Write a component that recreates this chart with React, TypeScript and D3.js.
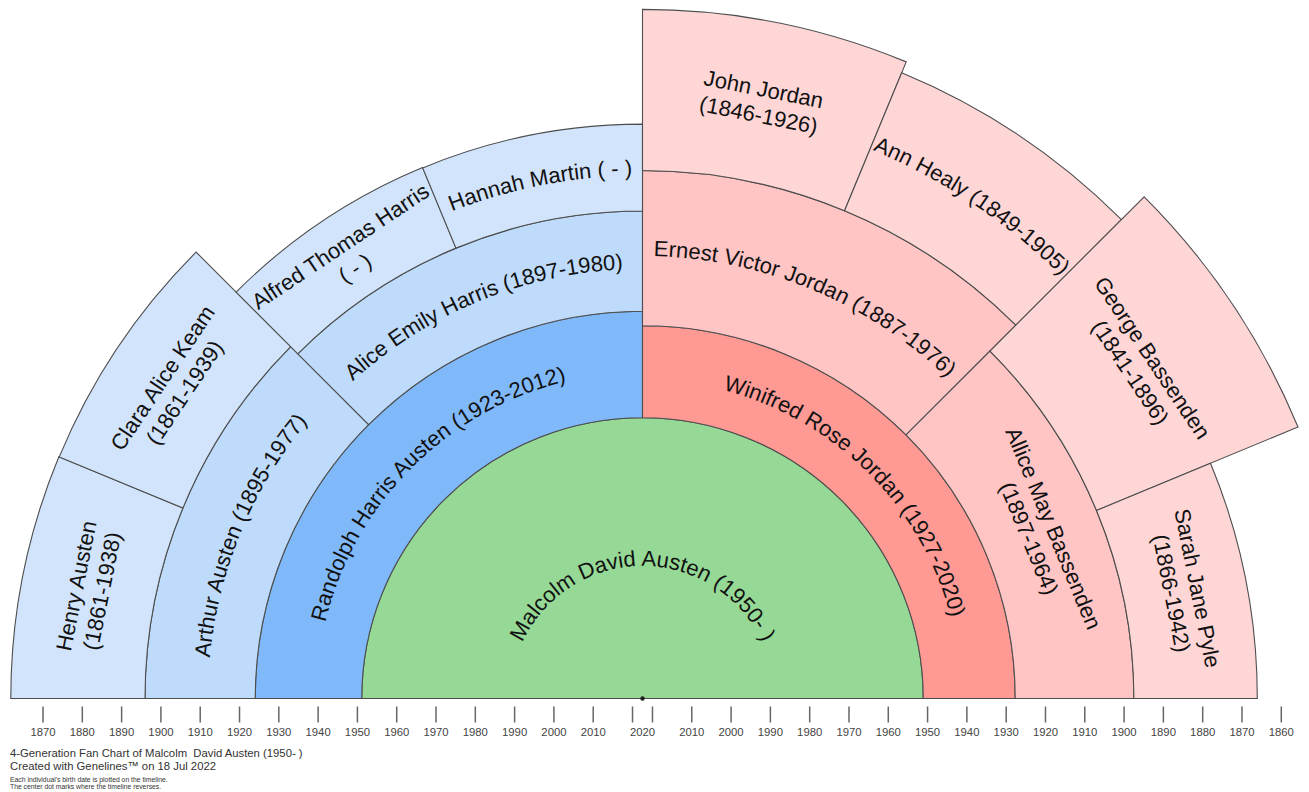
import React, { useMemo } from "react";
import * as d3 from "d3";

// ---- Data (Ahnentafel order: 1 = subject, 2n = father, 2n+1 = mother) ----
const names = [
  "Malcolm David Austen",
  "Randolph Harris Austen",
  "Winifred Rose Jordan",
  "Arthur Austen",
  "Alice Emily Harris",
  "Ernest Victor Jordan",
  "Allice May Bassenden",
  "Henry Austen",
  "Clara Alice Keam",
  "Alfred Thomas Harris",
  "Hannah Martin",
  "John Jordan",
  "Ann Healy",
  "George Bassenden",
  "Sarah Jane Pyle",
];
const lifespans = [
  "1950- ",
  "1923-2012",
  "1927-2020",
  "1895-1977",
  "1897-1980",
  "1887-1976",
  "1897-1964",
  "1861-1938",
  "1861-1939",
  " - ",
  " - ",
  "1846-1926",
  "1849-1905",
  "1841-1896",
  "1866-1942",
];
// birth dates as plotted on the timeline
const plottedBirth = [
  1951.1, 1924.0, 1927.7, 1895.95, 1898.5, 1888.2, 1897.5,
  1861.8, 1861.9, 1876.3, 1876.4, 1847.2, 1850.2, 1842.0, 1866.1,
];
const chartDate = 2022.54; // 18 Jul 2022
const leftTickYears = [1870, 1880, 1890, 1900, 1910, 1920, 1930, 1940, 1950, 1960, 1970, 1980, 1990, 2000, 2010, 2020];
const rightTickYears = [2020, 2010, 2000, 1990, 1980, 1970, 1960, 1950, 1940, 1930, 1920, 1910, 1900, 1890, 1880, 1870, 1860];
const centerTickYear = 2020; // labelled once, between its two ticks
const paternalColors = ["#96D996", "#80B9FA", "#BEDBFC", "#D1E4FC"];
const maternalColors = ["#96D996", "#FF9994", "#FFC4C4", "#FFD6D6"];
const footerLines = [
  "4-Generation Fan Chart of Malcolm  David Austen (1950- )",
  "Created with Genelines\u2122 on 18 Jul 2022",
];
const noteLines = [
  "Each individual's birth date is plotted on the timeline.",
  "The center dot marks where the timeline reverses.",
];

const W = 1309;
const H = 792;
const cx = 642.5;
const cy = 698.5;
const FONT = "'Liberation Sans', Arial, sans-serif";
const LABEL_SIZE = 22;

let ctx: CanvasRenderingContext2D | null = null;
function measure(text: string, size: number) {
  if (!ctx) ctx = document.createElement("canvas").getContext("2d");
  if (!ctx) return text.length * size * 0.5;
  ctx.font = `${size}px 'Liberation Sans', Arial, sans-serif`;
  return ctx.measureText(text).width;
}

export default function App() {
  const r = d3.scaleLinear().domain([chartDate, chartDate - 100]).range([0, 393]);
  const arcGen = d3.arc<any>();

  const cells = useMemo(
    () =>
      names.map((name, i) => {
        const n = i + 1;
        const g = Math.floor(Math.log2(n));
        const count = 2 ** g;
        const slot = n - count;
        const span = 180 / count;
        const thA = 180 - slot * span;
        const thB = thA - span;
        const inner = n === 1 ? 0 : r(plottedBirth[Math.floor(n / 2) - 1]);
        const outer = r(plottedBirth[i]);
        const paternal = slot < count / 2;
        const fill = n === 1 ? paternalColors[0] : paternal ? paternalColors[g] : maternalColors[g];
        const mid = (inner + outer) / 2;
        const base = mid - 0.355 * LABEL_SIZE; // baseline radius so glyphs centre on the ring
        const full = `${name} (${lifespans[i]})`;
        const arcLen = (mid * span * Math.PI) / 180;
        const wrap = measure(full, LABEL_SIZE) > arcLen * 0.975;
        return { n, g, thA, thB, inner, outer, fill, mid, base, full, wrap, name, life: `(${lifespans[i]})` };
      }),
    []
  );

  const toRad = (d: number) => (d * Math.PI) / 180;

  return (
    <svg
      width={W}
      height={H}
      style={{ position: "absolute", left: 0, top: 0, display: "block", background: "#fff" }}
      fontFamily={FONT}
    >
      <g>
        {cells.map((c) => (
          <path
            key={"c" + c.n}
            transform={`translate(${cx},${cy})`}
            d={
              arcGen({
                innerRadius: c.inner,
                outerRadius: c.outer,
                startAngle: Math.PI / 2 - toRad(c.thA),
                endAngle: Math.PI / 2 - toRad(c.thB),
              }) as string
            }
            fill={c.fill}
            stroke="#4d4d4d"
            strokeWidth={1.1}
          />
        ))}
      </g>
      <defs>
        {cells
          .filter((c) => !c.wrap)
          .map((c) => {
            const p = d3.path();
            const a0 = -toRad(c.thA);
            const a1 = -toRad(c.thB);
            p.moveTo(cx + c.base * Math.cos(a0), cy + c.base * Math.sin(a0));
            p.arc(cx, cy, c.base, a0, a1, false);
            return <path key={"lp" + c.n} id={"lp" + c.n} d={p.toString()} />;
          })}
      </defs>
      <g fill="#111" fontSize={LABEL_SIZE}>
        {cells.map((c) => {
          if (!c.wrap) {
            return (
              <text key={"t" + c.n} textAnchor="middle">
                <textPath href={"#lp" + c.n} startOffset="50%">
                  {c.full}
                </textPath>
              </text>
            );
          }
          const thm = (c.thA + c.thB) / 2;
          const x = cx + c.mid * Math.cos(toRad(thm));
          const y = cy - c.mid * Math.sin(toRad(thm));
          return (
            <text
              key={"t" + c.n}
              transform={`translate(${x},${y}) rotate(${90 - thm})`}
              textAnchor="middle"
              dominantBaseline="central"
            >
              <tspan x={0} y={-LABEL_SIZE * 0.6}>
                {c.name}
              </tspan>
              <tspan x={0} y={LABEL_SIZE * 0.6}>
                {c.life}
              </tspan>
            </text>
          );
        })}
      </g>
      <g stroke="#666" strokeWidth={1.5}>
        {leftTickYears.map((yr) => (
          <line key={"lt" + yr} x1={cx - r(yr)} x2={cx - r(yr)} y1={706.5} y2={722.5} />
        ))}
        {rightTickYears.map((yr) => (
          <line key={"rt" + yr} x1={cx + r(yr)} x2={cx + r(yr)} y1={706.5} y2={722.5} />
        ))}
      </g>
      <g fill="#444" fontSize={11.3} textAnchor="middle">
        {leftTickYears
          .filter((yr) => yr !== centerTickYear)
          .map((yr) => (
            <text key={"ll" + yr} x={cx - r(yr)} y={736}>
              {yr}
            </text>
          ))}
        {rightTickYears
          .filter((yr) => yr !== centerTickYear)
          .map((yr) => (
            <text key={"rl" + yr} x={cx + r(yr)} y={736}>
              {yr}
            </text>
          ))}
        <text x={cx} y={736}>
          {centerTickYear}
        </text>
      </g>
      <circle cx={cx} cy={cy} r={2.2} fill="#222" />
      <g fill="#333" fontSize={11.3}>
        {footerLines.map((t, i) => (
          <text key={"f" + i} x={10} y={756.5 + i * 13.5} style={{ whiteSpace: "pre" }}>
            {t}
          </text>
        ))}
      </g>
      <g fill="#333" fontSize={6.8}>
        {noteLines.map((t, i) => (
          <text key={"n" + i} x={10} y={782 + i * 6.8}>
            {t}
          </text>
        ))}
      </g>
    </svg>
  );
}
